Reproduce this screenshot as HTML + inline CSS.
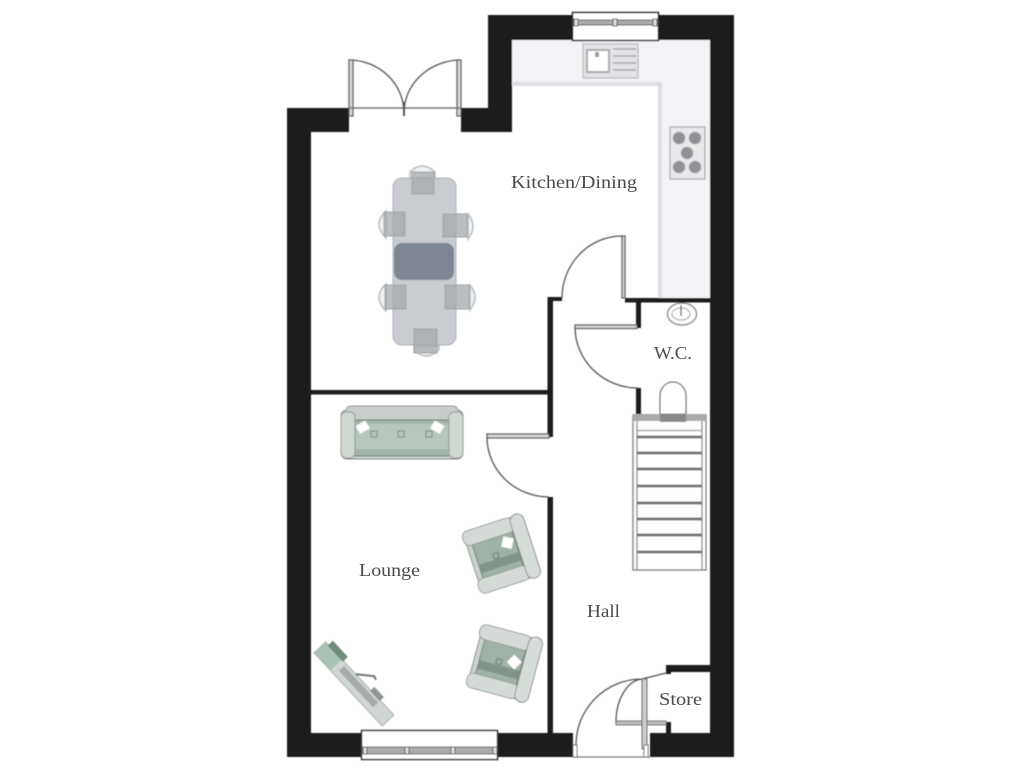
<!DOCTYPE html>
<html><head><meta charset="utf-8"><style>
html,body{margin:0;padding:0;background:#fff;width:1024px;height:768px;overflow:hidden}
svg{display:block}
text{font-family:"Liberation Serif",serif;fill:#4a4a4a;font-size:18px}
</style></head><body>
<svg width="1024" height="768" viewBox="0 0 1024 768" xmlns="http://www.w3.org/2000/svg">
<defs><filter id="b" x="-5%" y="-5%" width="110%" height="110%"><feGaussianBlur stdDeviation="0.6"/></filter></defs>
<g filter="url(#b)">
<!-- worktop -->
<path d="M512 40H710V298H658V86H512Z" fill="#f3f3f7"/>
<path d="M513 84H660V298" fill="none" stroke="#dcdde0" stroke-width="4"/>
<!-- outer walls -->
<path fill-rule="evenodd" fill="#1d1b1e" d="M287 108H349V132H311V733H361V757H287Z"/>
<path fill="#1d1b1e" d="M461 108H488V15H572V40H512V132H461Z"/>
<path fill="#1d1b1e" d="M659 15H734V757H650V733H710V40H659Z"/>
<path fill="#1d1b1e" d="M498 733H573V757H498Z"/>
<!-- inner walls -->
<g fill="#1d1b1e">
<rect x="311" y="390" width="240" height="4.5"/>
<rect x="547.5" y="297" width="5.5" height="140"/>
<rect x="548" y="297" width="14" height="4"/>
<rect x="547.5" y="497" width="5.5" height="236"/>
<rect x="625" y="298" width="85" height="4.5"/>
<rect x="636" y="300" width="5" height="28"/>
<rect x="636" y="388" width="5" height="27"/>
<path d="M666 665H711V672H671V674H666Z"/>
<rect x="666" y="722" width="5" height="11"/>
</g>
<!-- doors -->
<g fill="none" stroke="#555" stroke-width="1.3">
<path d="M349 60A55 53 0 0 1 404 113"/>
<path d="M461 60A57 53 0 0 0 404 113"/>
<path d="M622 236A60 62 0 0 0 562 298"/>
<path d="M575 327A63 61 0 0 0 638 388"/>
<path d="M487 437A62 60 0 0 0 549 497"/>
<path d="M666 673L642 679A66 66 0 0 0 576 745"/>
<path d="M642 679A28 43 0 0 0 616 722"/>
</g>
<g fill="#d8d8d8" stroke="#555" stroke-width="1.2">
<rect x="349" y="60" width="4" height="56"/>
<rect x="457" y="60" width="4" height="56"/>
<rect x="622" y="236" width="3" height="62"/>
<rect x="575" y="325" width="62" height="3.5"/>
<rect x="487" y="434" width="62" height="4"/>
</g>
<path d="M349 108H461" stroke="#777" stroke-width="1.5"/>
<path d="M404 102V116" stroke="#555" stroke-width="2"/>
<rect x="616" y="721" width="50" height="4" fill="#bbb" stroke="#777" stroke-width="1"/>
<rect x="642" y="679" width="5" height="70" fill="#ccc" stroke="#666" stroke-width="1"/>
<path d="M573 757H650" stroke="#777" stroke-width="1.2"/>
<rect x="573" y="745" width="4" height="12" fill="#fff" stroke="#666"/>
<rect x="644" y="745" width="4" height="12" fill="#fff" stroke="#666"/>
<!-- top window -->
<rect x="572.5" y="12.5" width="86" height="28" fill="#fff" stroke="#222" stroke-width="1.5"/>
<rect x="573" y="20" width="85" height="5" fill="#aaa" stroke="#555" stroke-width="1"/>
<rect x="574" y="19" width="4" height="7" fill="#ddd" stroke="#555"/><rect x="613" y="19" width="4" height="7" fill="#ddd" stroke="#555"/><rect x="653" y="19" width="4" height="7" fill="#ddd" stroke="#555"/>
<!-- bottom window -->
<rect x="361.5" y="730.5" width="136" height="29" fill="#fff" stroke="#333" stroke-width="1.5"/>
<rect x="362" y="747" width="135" height="7" fill="#aaa" stroke="#666" stroke-width="1"/>
<rect x="363" y="747" width="4" height="7" fill="#ddd" stroke="#555"/><rect x="405" y="747" width="4" height="7" fill="#ddd" stroke="#555"/><rect x="451" y="747" width="4" height="7" fill="#ddd" stroke="#555"/><rect x="493" y="747" width="4" height="7" fill="#ddd" stroke="#555"/>
<!-- sink -->
<rect x="583" y="44" width="55" height="34" fill="#e2e3e6" stroke="#bbb" stroke-width="1.2"/>
<rect x="587" y="50" width="22" height="22" fill="#fff" stroke="#aaa" stroke-width="2"/>
<rect x="595" y="52" width="4" height="5" fill="#999"/>
<g stroke="#aaa" stroke-width="1.5"><path d="M613 49H636M613 56H636M613 63H636M613 70H636"/></g>
<!-- hob -->
<rect x="670" y="127" width="35" height="52" fill="#e9e9ec" stroke="#aaa" stroke-width="1.2"/>
<g fill="#8f9093" stroke="#b5b5b5"><circle cx="679" cy="138" r="6"/><circle cx="695" cy="138" r="6"/><circle cx="687" cy="153" r="6"/><circle cx="679" cy="167" r="6"/><circle cx="695" cy="167" r="6"/></g>
<!-- table + chairs -->
<g fill="#eef0f1" stroke="#b8bcc0" stroke-width="1.5">
<path d="M410 178V172Q422 160 435 172V178Z"/><path d="M414 346V350Q426 362 439 350V346Z"/>
<path d="M386 211Q372 224 386 238Z"/><path d="M386 284Q372 297 386 311Z"/>
<path d="M468 214Q478 226 468 239Z"/><path d="M470 285Q480 297 470 310Z"/>
</g>
<rect x="393" y="178" width="63" height="167" rx="9" fill="#c9cdd1" stroke="#aeb2b6"/>
<g fill="#a3a9ae" fill-opacity=".75" stroke="#a0a5a9">
<rect x="412" y="172" width="22" height="22"/><rect x="414" y="329" width="23" height="24"/>
<rect x="384" y="212" width="21" height="24"/><rect x="385" y="285" width="21" height="24"/>
<rect x="443" y="214" width="24" height="23"/><rect x="445" y="285" width="24" height="24"/>
</g>
<rect x="394" y="243" width="60" height="37" rx="8" fill="#7d8692"/>
<!-- sofa -->
<rect x="341" y="410" width="122" height="49" rx="6" fill="#c9d3cc" stroke="#888"/>
<rect x="346" y="406" width="112" height="14" rx="5" fill="#c7cec9" stroke="#999"/>
<rect x="354" y="420" width="96" height="36" fill="#a3b5aa" stroke="#6e7a72"/>
<rect x="356" y="424" width="92" height="25" fill="#b7c7bc"/>
<rect x="341" y="412" width="14" height="46" rx="5" fill="#ced8d1" stroke="#999"/>
<rect x="449" y="412" width="14" height="46" rx="5" fill="#ced8d1" stroke="#999"/>
<rect x="357" y="423" width="11" height="9" fill="#fff" transform="rotate(-30 362 427)"/>
<rect x="432" y="423" width="11" height="9" fill="#fff" transform="rotate(30 438 427)"/>
<g fill="none" stroke="#7d8a82"><rect x="371" y="431" width="6" height="6"/><rect x="398" y="431" width="6" height="6"/><rect x="426" y="431" width="6" height="6"/></g>
<!-- armchairs -->
<g transform="translate(501 554) rotate(-18) scale(.88)">
<rect x="-34" y="-36" width="68" height="72" rx="7" fill="#c9d3cc" stroke="#888"/>
<rect x="-28" y="-21" width="48" height="42" fill="#9fb2a6" stroke="#6e7a72"/>
<rect x="-28" y="4" width="48" height="10" fill="#82948a"/>
<rect x="-36" y="-37" width="60" height="17" rx="7" fill="#d4dbd6" stroke="#999"/>
<rect x="-36" y="20" width="60" height="17" rx="7" fill="#d4dbd6" stroke="#999"/>
<rect x="21" y="-38" width="16" height="76" rx="8" fill="#d6ddd8" stroke="#888"/>
<rect x="5" y="-16" width="12" height="12" fill="#fff" transform="rotate(30 11 -10)"/>
<rect x="-9" y="-3" width="6" height="6" fill="none" stroke="#6e7a72"/>
</g>
<g transform="translate(504 663) rotate(15) scale(.88)">
<rect x="-34" y="-36" width="68" height="72" rx="7" fill="#c9d3cc" stroke="#888"/>
<rect x="-28" y="-21" width="48" height="42" fill="#9fb2a6" stroke="#6e7a72"/>
<rect x="-28" y="4" width="48" height="10" fill="#82948a"/>
<rect x="-36" y="-37" width="60" height="17" rx="7" fill="#d4dbd6" stroke="#999"/>
<rect x="-36" y="20" width="60" height="17" rx="7" fill="#d4dbd6" stroke="#999"/>
<rect x="21" y="-38" width="16" height="76" rx="8" fill="#d6ddd8" stroke="#888"/>
<rect x="5" y="-10" width="12" height="12" fill="#fff" transform="rotate(30 11 -4)"/>
<rect x="-9" y="-3" width="6" height="6" fill="none" stroke="#6e7a72"/>
</g>
<!-- media unit -->
<g transform="translate(354 684) rotate(47)">
<rect x="-50" y="-8" width="100" height="16" fill="#cfd6d1" stroke="#a9b0ab"/>
<rect x="-50" y="-8" width="24" height="16" fill="#a9c2b3"/>
<rect x="-46" y="-14" width="22" height="7" fill="#6f8a7c"/>
<rect x="-20" y="-5" width="50" height="7" fill="#a5aba7"/>
<path d="M-6 -8L8 -20L12 -19" fill="none" stroke="#777" stroke-width="2"/>
<rect x="16" y="-13" width="14" height="6" fill="#8d9690"/>
</g>
<!-- WC basin -->
<ellipse cx="682" cy="314" rx="14.5" ry="11" fill="#fff" stroke="#777" stroke-width="1.2"/>
<ellipse cx="681" cy="314" rx="9" ry="6" fill="#fff" stroke="#999"/>
<path d="M681 305V316" stroke="#777" stroke-width="1.5"/>
<!-- toilet -->
<path d="M660 414V396A13 14 0 0 1 686 396V414" fill="#fff" stroke="#777" stroke-width="1.3"/>
<rect x="660" y="414" width="26" height="8" fill="#bbb" stroke="#888"/>
<!-- stairs -->
<rect x="633" y="415" width="73" height="155" fill="#fff" stroke="#777" stroke-width="1.3"/>
<path d="M637 415V570M702 415V570" stroke="#999" stroke-width="1.5"/>
<rect x="633" y="414" width="73" height="7" fill="#a9a9a9"/>
<rect x="660" y="414" width="26" height="8" fill="#888"/>
<g stroke="#777" stroke-width="3"><path d="M637 437H702M637 453H702M637 469H702M637 486H702M637 503H702M637 519H702M637 535H702M637 552H702"/></g>
<path d="M637 430.5H702" stroke="#aaa" stroke-width="1.5"/>
</g>
<text x="511" y="188" textLength="126" lengthAdjust="spacingAndGlyphs">Kitchen/Dining</text>
<text x="654" y="359" textLength="38" lengthAdjust="spacingAndGlyphs">W.C.</text>
<text x="359" y="576" textLength="61" lengthAdjust="spacingAndGlyphs">Lounge</text>
<text x="587" y="617" textLength="33" lengthAdjust="spacingAndGlyphs">Hall</text>
<text x="659" y="705" textLength="43" lengthAdjust="spacingAndGlyphs">Store</text>
</svg>
</body></html>
